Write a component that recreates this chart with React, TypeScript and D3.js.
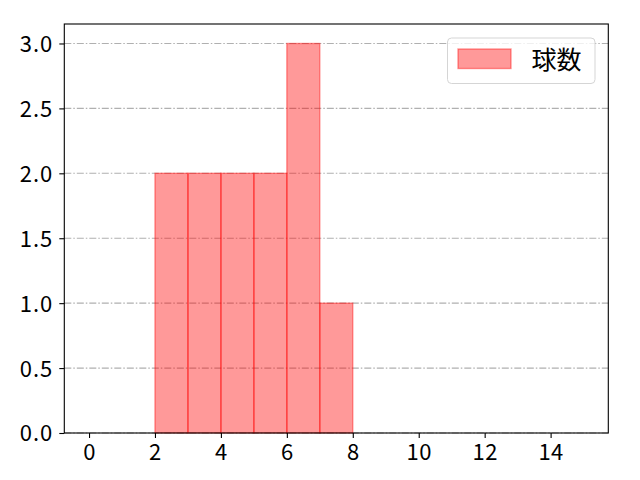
import React, { useEffect, useRef } from 'react';
import * as d3 from 'd3';

// histogram bins (edges 0..15) and counts per bin
const binStarts = [0, 1, 2, 3, 4, 5, 6, 7, 8, 9, 10, 11, 12, 13, 14];
const counts = [0, 0, 2, 2, 2, 2, 3, 1, 0, 0, 0, 0, 0, 0, 0];
const binWidth = 1;
const xTicks = [0, 2, 4, 6, 8, 10, 12, 14];
const yTicks = [0, 0.5, 1.0, 1.5, 2.0, 2.5, 3.0];
const seriesLabel = '球数';

const App: React.FC = () => {
  const svgRef = useRef<SVGSVGElement>(null);

  useEffect(() => {
    if (!svgRef.current) return;
    const width = 640;
    const height = 480;
    const margin = { top: 24, right: 31.7, bottom: 47, left: 64.3 };
    const font = '"Noto Sans CJK JP", "Noto Sans", sans-serif';

    const svg = d3.select(svgRef.current)
      .attr('width', width)
      .attr('height', height);
    svg.selectAll('*').remove();

    svg.append('rect').attr('width', width).attr('height', height).attr('fill', '#fff');

    const x = d3.scaleLinear()
      .domain([-0.75, 15.75])
      .range([margin.left, width - margin.right]);
    const y = d3.scaleLinear()
      .domain([0, 3.15])
      .range([height - margin.bottom, margin.top]);

    // grid
    svg.append('g')
      .selectAll('line')
      .data(yTicks)
      .enter()
      .append('line')
      .attr('x1', margin.left)
      .attr('x2', width - margin.right)
      .attr('y1', d => y(d))
      .attr('y2', d => y(d))
      .attr('stroke', '#b0b0b0')
      .attr('stroke-width', 1.1)
      .attr('stroke-dasharray', '7,2,1.5,2');

    // bars
    svg.append('g')
      .selectAll('rect')
      .data(binStarts.map((s, i) => ({ s, c: counts[i] })))
      .enter()
      .append('rect')
      .attr('x', d => x(d.s))
      .attr('width', d => x(d.s + binWidth) - x(d.s))
      .attr('y', d => y(d.c))
      .attr('height', d => y(0) - y(d.c))
      .attr('fill', 'rgba(255,0,0,0.4)')
      .attr('stroke', 'rgba(255,0,0,0.4)')
      .attr('stroke-width', 1.4);

    // x axis
    const xAxis = d3.axisBottom(x)
      .tickValues(xTicks)
      .tickSize(5)
      .tickPadding(5)
      .tickFormat(d => String(d));
    const gx = svg.append('g')
      .attr('transform', `translate(0, ${height - margin.bottom})`)
      .call(xAxis);
    gx.select('.domain').remove();
    gx.selectAll('text')
      .attr('font-size', '22px')
      .attr('font-family', font)
      .attr('letter-spacing', '0.5px')
      .attr('fill', '#000')
      .attr('dy', '0.78em');
    gx.selectAll('line').attr('stroke', '#000').attr('stroke-width', 1.1);

    // y axis
    const yAxis = d3.axisLeft(y)
      .tickValues(yTicks)
      .tickSize(5)
      .tickPadding(6)
      .tickFormat(d => d3.format('.1f')(d as number));
    const gy = svg.append('g')
      .attr('transform', `translate(${margin.left}, 0)`)
      .call(yAxis);
    gy.select('.domain').remove();
    gy.selectAll('text')
      .attr('font-size', '22px')
      .attr('font-family', font)
      .attr('letter-spacing', '1px')
      .attr('fill', '#000')
      .attr('dy', '0.36em');
    gy.selectAll('line').attr('stroke', '#000').attr('stroke-width', 1.1);

    // spines
    svg.append('rect')
      .attr('x', margin.left)
      .attr('y', margin.top)
      .attr('width', width - margin.left - margin.right)
      .attr('height', height - margin.top - margin.bottom)
      .attr('fill', 'none')
      .attr('stroke', '#000')
      .attr('stroke-width', 1.1);

    // legend
    const lg = svg.append('g').attr('transform', 'translate(447.5, 38)');
    lg.append('rect')
      .attr('width', 147.5)
      .attr('height', 45.5)
      .attr('rx', 4)
      .attr('fill', 'rgba(255,255,255,0.8)')
      .attr('stroke', '#d5d5d5')
      .attr('stroke-width', 1);
    lg.append('rect')
      .attr('x', 10.5)
      .attr('y', 11)
      .attr('width', 53)
      .attr('height', 19.5)
      .attr('fill', 'rgba(255,0,0,0.4)')
      .attr('stroke', 'rgba(255,0,0,0.4)')
      .attr('stroke-width', 1.4);
    lg.append('text')
      .attr('x', 84)
      .attr('y', 30.5)
      .attr('font-size', '25px')
      .attr('font-family', font)
      .attr('fill', '#000')
      .text(seriesLabel);
  }, []);

  return (
    <div style={{ position: 'absolute', left: 0, top: 0 }}>
      <svg ref={svgRef} style={{ display: 'block' }} />
    </div>
  );
};

export default App;
